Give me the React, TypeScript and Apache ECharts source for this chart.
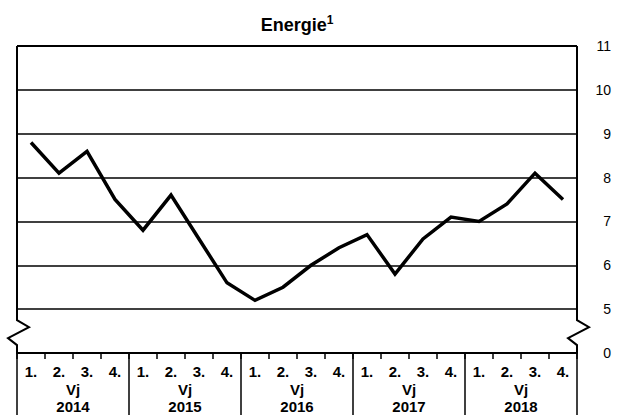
import React, { useEffect, useRef } from "react";
import * as echarts from "echarts";

const quarterLabels = [
  "1.", "2.", "3.", "4.",
  "1.", "2.", "3.", "4.",
  "1.", "2.", "3.", "4.",
  "1.", "2.", "3.", "4.",
  "1.", "2.", "3.", "4.",
];
const years = ["2014", "2015", "2016", "2017", "2018"];
const energy = [
  8.8, 8.1, 8.6, 7.5,
  6.8, 7.6, 6.6, 5.6,
  5.2, 5.5, 6.0, 6.4,
  6.7, 5.8, 6.6, 7.1,
  7.0, 7.4, 8.1, 7.5,
];
const yMin = 4; // shown as "0" (axis break)
const yMax = 11;
const yBreakLabel = "0";

const W = 622;
const H = 415;
const FONT = "Liberation Sans";

export default function App() {
  const ref = useRef<HTMLDivElement>(null);

  useEffect(() => {
    if (!ref.current) return;
    const chart = echarts.init(ref.current, null, { renderer: "svg" });
    const gl = 17;
    const gr = 45;
    const gt = 46;
    const gb = 62;

    chart.setOption({
      animation: false,
      grid: { left: gl, right: gr, top: gt, bottom: gb, containLabel: false, outerBoundsMode: "none" },
      xAxis: [
        {
          type: "category",
          data: quarterLabels,
          position: "bottom",
          boundaryGap: true,
          axisLine: { show: true, lineStyle: { color: "#000", width: 2 } },
          axisTick: { show: true, interval: 0, length: 6, lineStyle: { color: "#000", width: 1.5 } },
          axisLabel: {
            interval: 0,
            margin: 10,
            fontSize: 15,
            lineHeight: 17,
            fontWeight: "bold",
            fontFamily: FONT,
            color: "#000",
          },
          splitLine: { show: false },
        },
        {
          type: "category",
          data: years,
          position: "bottom",
          boundaryGap: true,
          axisLine: { show: false },
          axisTick: { show: true, interval: 0, length: 64, lineStyle: { color: "#000", width: 1.5 } },
          axisLabel: {
            interval: 0,
            margin: 28,
            fontSize: 15,
            fontWeight: "bold",
            fontFamily: FONT,
            color: "#000",
            lineHeight: 17,
            formatter: (v: string) => "Vj\n" + v,
          },
          splitLine: { show: false },
        },
      ],
      yAxis: {
        type: "value",
        position: "right",
        min: yMin,
        max: yMax,
        interval: 1,
        axisLine: { show: false },
        axisTick: { show: false },
        axisLabel: {
          margin: 34,
          align: "right",
          fontSize: 14,
          fontFamily: FONT,
          color: "#000",
          formatter: (v: number) => (v === yMin ? yBreakLabel : String(v)),
        },
        splitLine: { show: true, lineStyle: { color: "#000", width: 1.5 } },
      },
      series: [
        {
          type: "line",
          xAxisIndex: 0,
          data: energy,
          symbol: "none",
          lineStyle: { color: "#000", width: 3.5, join: "miter" },
          z: 5,
        },
      ],
    });

    const yTop = chart.convertToPixel({ yAxisIndex: 0 }, yMax) as number;
    const y5 = chart.convertToPixel({ yAxisIndex: 0 }, yMin + 1) as number;
    const y0 = chart.convertToPixel({ yAxisIndex: 0 }, yMin) as number;
    const xl = gl;
    const xr = W - gr;
    const gap = y0 - y5;
    const zig = (x: number) => [
      [x, yTop],
      [x, y5 + gap * 0.25],
      [x + 12, y5 + gap * 0.41],
      [x - 9, y5 + gap * 0.66],
      [x, y5 + gap * 0.82],
      [x, y0],
    ];

    chart.setOption({
      graphic: [
        {
          type: "line",
          shape: { x1: xl, y1: yTop, x2: xr, y2: yTop },
          style: { stroke: "#000", lineWidth: 2 },
          z: 10,
        },
        {
          type: "polyline",
          shape: { points: zig(xl) },
          style: { stroke: "#000", lineWidth: 2, fill: null },
          z: 10,
        },
        {
          type: "polyline",
          shape: { points: zig(xr) },
          style: { stroke: "#000", lineWidth: 2, fill: null },
          z: 10,
        },
        {
          type: "text",
          x: (xl + xr) / 2,
          y: 25,
          style: {
            text: "{a|Energie}{b|1}",
            align: "center",
            verticalAlign: "middle",
            fill: "#000",
            rich: {
              a: { fontSize: 18, fontWeight: "bold", fontFamily: FONT, fill: "#000", lineHeight: 22 },
              b: { fontSize: 12, fontWeight: "bold", fontFamily: FONT, fill: "#000", verticalAlign: "top", lineHeight: 13 },
            },
          },
          z: 10,
        },
      ],
    });

    return () => chart.dispose();
  }, []);

  return (
    <div
      ref={ref}
      style={{ position: "fixed", left: 0, top: 0, width: W, height: H, background: "#fff" }}
    />
  );
}
